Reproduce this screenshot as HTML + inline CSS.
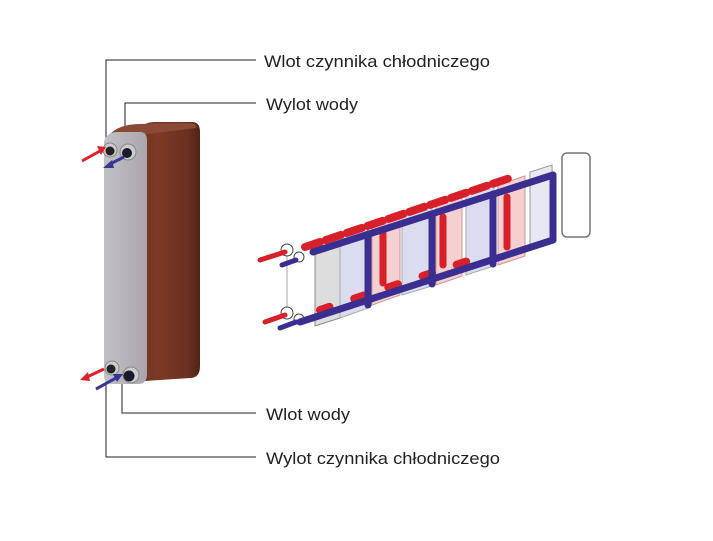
<!DOCTYPE html>
<html><head><meta charset="utf-8"><style>
html,body{margin:0;padding:0;background:#fff;width:713px;height:541px;overflow:hidden}
text{font-family:"Liberation Sans",sans-serif;font-size:17px;fill:#222}
</style></head><body>
<svg width="713" height="541" viewBox="0 0 713 541" xmlns="http://www.w3.org/2000/svg">
<defs>
<linearGradient id="br" x1="0" x2="1"><stop offset="0" stop-color="#6e3322"/><stop offset="0.3" stop-color="#7d3a26"/><stop offset="0.8" stop-color="#6a3020"/><stop offset="1" stop-color="#4e2418"/></linearGradient>
<linearGradient id="gr" x1="0" x2="1"><stop offset="0" stop-color="#c2c1c5"/><stop offset="0.5" stop-color="#b6b4b9"/><stop offset="1" stop-color="#a9a7ac"/></linearGradient>
</defs>
<g stroke="#222" stroke-width="1" fill="none">
<polyline points="106,140 106,60 256,60"/>
<polyline points="125,134 125,103 256,103"/>
<polyline points="122,382 122,413 256,413"/>
<polyline points="106,376 106,457 256,457"/>
</g>
<text x="264" y="67" textLength="226" lengthAdjust="spacingAndGlyphs">Wlot czynnika chłodniczego</text>
<text x="266" y="110" textLength="92" lengthAdjust="spacingAndGlyphs">Wylot wody</text>
<text x="266" y="420" textLength="84" lengthAdjust="spacingAndGlyphs">Wlot wody</text>
<text x="266" y="464" textLength="234" lengthAdjust="spacingAndGlyphs">Wylot czynnika chłodniczego</text>
<path d="M140,128 Q145,122 155,122 L192,122 Q200,122 200,132 L200,366 Q200,378 190,378 L145,381 Z" fill="url(#br)"/>
<path d="M110,134 Q120,124 140,124 L190,123 Q198,124 196,128 L147,134 Z" fill="#8a4a36"/>
<path d="M104,142 Q106,132 118,132 L140,132 Q147,132 147,140 L147,374 Q147,384 138,384 L112,384 Q104,384 104,376 Z" fill="url(#gr)"/>
<circle cx="110" cy="150" r="7" fill="#ccc" stroke="#888"/><circle cx="110" cy="151" r="4.5" fill="#222"/>
<circle cx="128" cy="152" r="8" fill="#ccc" stroke="#888"/><circle cx="127" cy="153" r="5" fill="#1a1a2a"/>
<circle cx="112" cy="368" r="7" fill="#ccc" stroke="#888"/><circle cx="111" cy="369" r="4.5" fill="#222"/>
<circle cx="131" cy="375" r="8" fill="#ccc" stroke="#888"/><circle cx="129" cy="376" r="5.5" fill="#1a1a2a"/>
<g stroke-width="3" fill="none">
<line x1="82" y1="161" x2="100" y2="151" stroke="#e0202a"/>
<line x1="124" y1="157" x2="110" y2="164" stroke="#3a3590"/>
<line x1="104" y1="369" x2="87" y2="377" stroke="#e0202a"/>
<line x1="96" y1="389" x2="116" y2="378" stroke="#3a3590"/>
</g>
<polygon points="106,147 97,146 101,155" fill="#e0202a"/>
<polygon points="103,168 112,160 114,168" fill="#3a3590"/>
<polygon points="80,380 88,372 90,381" fill="#e0202a"/>
<polygon points="123,374 113,374 117,382" fill="#3a3590"/>
<g stroke-width="1">
<polygon points="315,242 340,234 340,318 315,326" fill="#ddd" stroke="#888"/>
<polygon points="340,234 368,226 368,308 340,318" fill="#dcdcf0" stroke="#aaa"/>
<polygon points="372,224 400,215 400,295 372,305" fill="#f4d0d0" stroke="#c99"/>
<polygon points="402,215 432,206 432,286 402,295" fill="#dcdcf0" stroke="#aaa"/>
<polygon points="436,205 462,196 462,276 436,285" fill="#f4d0d0" stroke="#c99"/>
<polygon points="466,195 494,186 494,266 466,275" fill="#dcdcf0" stroke="#aaa"/>
<polygon points="498,185 525,176 525,256 498,265" fill="#f4d0d0" stroke="#c99"/>
<polygon points="530,172 552,165 553,240 530,248" fill="#e8e8f4" stroke="#999"/>
<rect x="562" y="153" width="28" height="84" rx="5" fill="#fff" stroke="#777" stroke-width="1.5"/>
</g>
<g stroke-linecap="round" fill="none">
<line x1="287" y1="250" x2="287" y2="314" stroke="#aaa" stroke-width="1"/>
<circle cx="287" cy="250" r="6" fill="#fff" stroke="#444"/>
<circle cx="299" cy="257" r="5" fill="#fff" stroke="#444"/>
<circle cx="287" cy="313" r="6" fill="#fff" stroke="#444"/>
<circle cx="299" cy="319" r="5" fill="#fff" stroke="#444"/>
<line x1="260" y1="260" x2="285" y2="252" stroke="#d8202a" stroke-width="5"/>
<line x1="265" y1="322" x2="285" y2="315" stroke="#d8202a" stroke-width="5"/>
<line x1="282" y1="265" x2="296" y2="260" stroke="#3a2f90" stroke-width="5"/>
<line x1="280" y1="328" x2="296" y2="322" stroke="#3a2f90" stroke-width="5"/>
<line x1="305" y1="247" x2="510" y2="178" stroke="#d8202a" stroke-width="8" stroke-dasharray="16,6"/>
<line x1="320" y1="310" x2="480" y2="257" stroke="#d8202a" stroke-width="8" stroke-dasharray="10,26"/>
<line x1="383" y1="233" x2="383" y2="283" stroke="#d8202a" stroke-width="7"/>
<line x1="443" y1="217" x2="443" y2="265" stroke="#d8202a" stroke-width="7"/>
<line x1="507" y1="197" x2="507" y2="247" stroke="#d8202a" stroke-width="7"/>
<line x1="313" y1="252" x2="553" y2="175" stroke="#3a2f90" stroke-width="7"/>
<line x1="300" y1="322" x2="553" y2="240" stroke="#3a2f90" stroke-width="7"/>
<line x1="553" y1="175" x2="553" y2="240" stroke="#3a2f90" stroke-width="7"/>
<line x1="368" y1="234" x2="368" y2="305" stroke="#3a2f90" stroke-width="7"/>
<line x1="432" y1="214" x2="432" y2="284" stroke="#3a2f90" stroke-width="7"/>
<line x1="493" y1="194" x2="493" y2="264" stroke="#3a2f90" stroke-width="7"/>
</g>
</svg>
</body></html>
